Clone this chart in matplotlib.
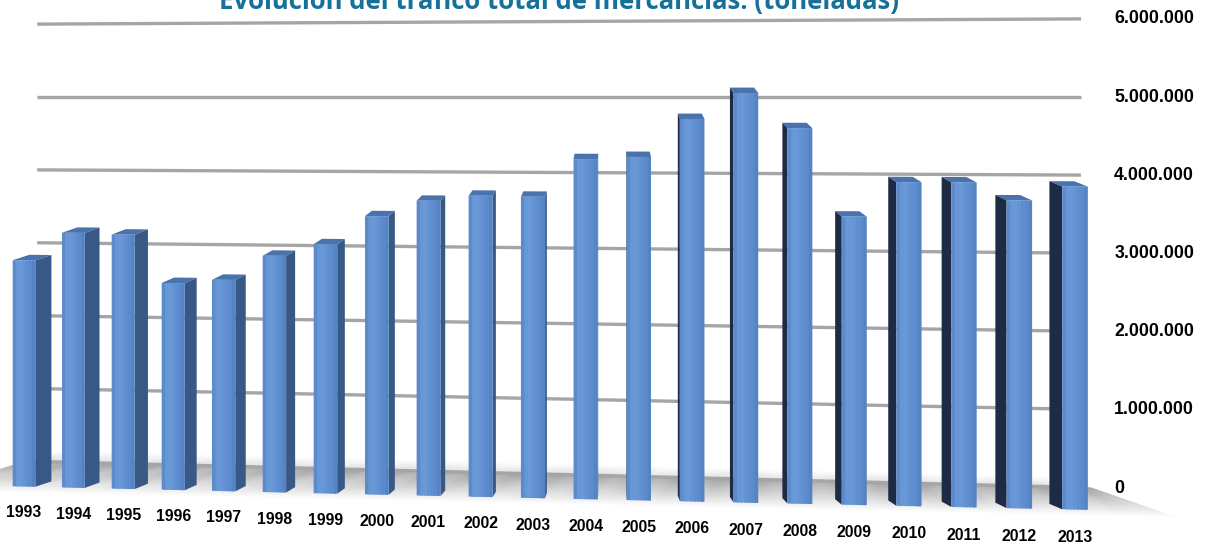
import matplotlib
matplotlib.use("Agg")
import matplotlib.pyplot as plt
import matplotlib.transforms as mtransforms
from matplotlib.patches import Polygon
from matplotlib.colors import to_rgb
import numpy as np

# ---- data ----
years = [1993, 1994, 1995, 1996, 1997, 1998, 1999, 2000, 2001, 2002, 2003,
         2004, 2005, 2006, 2007, 2008, 2009, 2010, 2011, 2012, 2013]
toneladas = [3.09e6, 3.47e6, 3.45e6, 2.80e6, 2.85e6, 3.18e6, 3.34e6, 3.72e6,
             3.93e6, 4.00e6, 3.99e6, 4.49e6, 4.52e6, 5.02e6, 5.36e6, 4.90e6,
             3.75e6, 4.20e6, 4.20e6, 3.97e6, 4.15e6]
ticks = [0, 1e6, 2e6, 3e6, 4e6, 5e6, 6e6]
tick_labels = ["0", "1.000.000", "2.000.000", "3.000.000", "4.000.000",
               "5.000.000", "6.000.000"]
titulo = "Evolución del tráfico total de mercancías. (toneladas)"

# ---- fake 3d view settings (pixels) ----
W, H = 1211, 547
X0, DX, QX = 24.0, 49.25, 0.165   # bar spacing grows to the right
S0, GS = 73.2, 0.23               # px per million, growth per bar
Y5 = 120.5                        # 5M level of the front plane, px from top
DEPTH_Y, KX, XV = 23.5, 0.122, 608.0
ZB = 0.23                         # bar depth (back wall = 1)
HW = 0.23                         # half bar width in bar units


class Persp(mtransforms.Transform):
    input_dims = output_dims = 2

    def __init__(self, z):
        super().__init__()
        self.z = z

    def transform_non_affine(self, xy):
        xy = np.asarray(xy, float).reshape(-1, 2)
        u = (xy[:, 0] - X0) / DX
        x = X0 + DX * u + QX * u * u
        ytop = H - xy[:, 1]
        ytop = Y5 + (ytop - Y5) * (1 + GS / S0 * u)
        x = x + self.z * KX * (XV - x)
        ytop = ytop - self.z * DEPTH_Y
        return np.column_stack([x, H - ytop])


fig = plt.figure(figsize=(W / 100, H / 100), dpi=100)
ax = fig.add_axes([0, 0, 1, 1])
ax.set_autoscale_on(False)
ax.set_xlim(-X0 / DX, (W - X0) / DX)
ax.set_ylim(5e6 - (H - Y5) / S0 * 1e6, 5e6 + Y5 / S0 * 1e6)
ax.axis("off")


def pts(u, v, z):
    flat = ax.transData.transform(np.column_stack([u, v]))
    return Persp(z).transform(flat)


def add_poly(p, color, zorder):
    ax.add_patch(Polygon(p, closed=True, facecolor=color, edgecolor="none",
                         transform=mtransforms.IdentityTransform(),
                         zorder=zorder))


# floor shadow
u_floor = np.array([-1.6, 21.5])
zs = np.linspace(-0.25, 1.45, 40)
for za, zb in zip(zs[:-1], zs[1:]):
    zm = (za + zb) / 2
    if zm > 1:
        a = 0.13 * (1.45 - zm) / 0.45
    else:
        a = 0.36 * max(zm + 0.25, 0) / 1.25
    g = 1 - a
    p = np.vstack([pts(u_floor, [0, 0], za),
                   pts(u_floor[::-1], [0, 0], zb + 0.01)])
    add_poly(p, (g, g, g), 0)

# back wall gridlines
u_grid = [-1.35, 21.28]
for t in ticks:
    ax.plot(u_grid, [t, t], color="#a5a5a5", lw=2.4, solid_capstyle="butt",
            transform=ax.transData + Persp(1), zorder=1)

# bars: top + side faces
u_pos = np.arange(len(years))
for u, val in zip(u_pos, toneladas):
    fr = pts([u - HW, u + HW], [val, val], 0)
    bk = pts([u - HW, u + HW], [val, val], ZB)
    add_poly(np.vstack([fr, bk[::-1]]), "#4a72ac", 3)
    if bk[1, 0] > fr[1, 0]:
        e, col = u + HW, "#385886"
    else:
        e, col = u - HW, "#1d2b44"
    p = np.vstack([pts([e, e], [0, val], 0), pts([e, e], [val, 0], ZB)])
    add_poly(p, col, 3)

# bars: front faces with a soft horizontal gradient
stops = [0.0, 0.15, 0.35, 0.6, 0.85, 1.0]
cols = np.array([to_rgb(c) for c in
                 ["#5380c1", "#6796d6", "#6a99d8", "#6090d1", "#5a88ca", "#5080bf"]])
n = 7
sw = 2 * HW / n
for j in range(n):
    f = (j + 0.5) / n
    c = [np.interp(f, stops, cols[:, k]) for k in range(3)]
    left = u_pos - HW + j * sw
    wj = sw * (1.6 if j < n - 1 else 1.0)
    bars = ax.bar(left, toneladas, width=wj, align="edge",
                  color=c, linewidth=0, zorder=4)
    for b in bars:
        b.set_transform(ax.transData + Persp(0))

# year labels
for u, y in zip(u_pos, years):
    ax.text(u, -0.36e6, str(y), transform=ax.transData + Persp(0),
            ha="center", va="center", fontsize=11.3, fontweight="bold",
            family="Liberation Sans", color="black", zorder=5)

# value axis on the right
for t, lab in zip(ticks, tick_labels):
    ax.text(21.95, t, lab, transform=ax.transData + Persp(1),
            ha="left", va="center", fontsize=12.8, fontweight="bold",
            family="Liberation Sans", color="black", zorder=5)

# title, partly cut at the top edge as in the source
tt = fig.text(559 / W, 1 - 9 / H, titulo, ha="center", va="baseline",
              color="#17709a", fontsize=18, fontweight="bold", family="Open Sans")
r = fig.canvas.get_renderer()
wd = tt.get_window_extent(r).width
tt.set_fontsize(18 * 682 / wd)

fig.savefig("out.png", dpi=100)
